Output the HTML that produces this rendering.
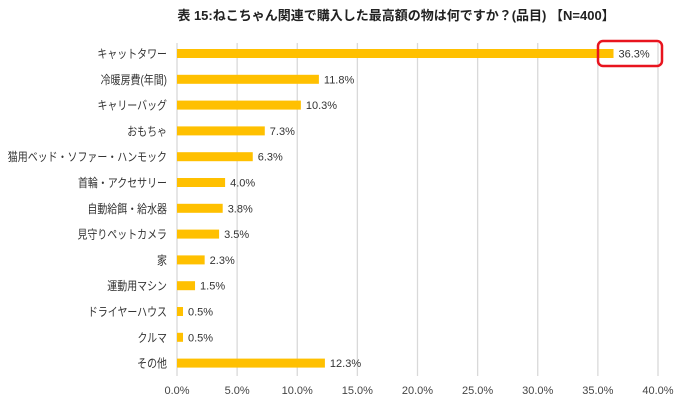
<!DOCTYPE html>
<html><head><meta charset="utf-8">
<style>
body{margin:0;background:#fff;}
svg{display:block;font-family:"Liberation Sans","Noto Sans CJK JP",sans-serif;}
</style></head>
<body>
<svg id="chart" width="700" height="405">
<text x="396" y="20" text-anchor="middle" font-size="13" font-weight="bold" fill="#222">表 15:ねこちゃん関連で購入した最高額の物は何ですか？(品目) 【N=400】</text>
<g id="grid"></g><g id="bars"></g><g id="labels"></g>
<rect x="598" y="41" width="64" height="25" rx="5" fill="none" stroke="#e8141e" stroke-width="2.5"/>
</svg>
<script>
const categories=["キャットタワー","冷暖房費(年間)","キャリーバッグ","おもちゃ","猫用ベッド・ソファー・ハンモック","首輪・アクセサリー","自動給餌・給水器","見守りペットカメラ","家","運動用マシン","ドライヤーハウス","クルマ","その他"];
const values=[36.3,11.8,10.3,7.3,6.3,4.0,3.8,3.5,2.3,1.5,0.5,0.5,12.3];
const ticks=[0,5,10,15,20,25,30,35,40];
const NS="http://www.w3.org/2000/svg";
const x=v=>177+v*12.025;
const y=i=>53.5+i*25.8;
function mk(t,a,p){const e=document.createElementNS(NS,t);for(const k in a)e.setAttribute(k,a[k]);p.appendChild(e);return e;}
const g=document.getElementById('grid'),b=document.getElementById('bars'),l=document.getElementById('labels');
ticks.forEach(t=>{
 const ln=mk('line',{x1:x(t),x2:x(t),y1:43,y2:376,stroke:'#d9d9d9','stroke-width':1.3},g);
 
 
 const tx=mk('text',{x:x(t),y:394,'text-anchor':'middle','font-size':11,fill:'#444'},g);
 tx.textContent=t.toFixed(1)+'%';
 
 
});
categories.forEach((c,i)=>{
 const r=mk('rect',{x:x(0),y:y(i)-4.5,width:x(values[i])-x(0),height:9,fill:'#ffc000'},b);
 
 
 const ct=mk('text',{x:0,y:y(i)+4.5,'text-anchor':'end','font-size':12,fill:'#333',transform:'translate(167,0) scale(0.83,1)'},l);
 ct.textContent=c;
 
 
 const vt=mk('text',{x:x(values[i])+5,y:y(i)+4,'font-size':11,fill:'#333'},l);
 vt.textContent=values[i].toFixed(1)+'%';
 
 
});
</script>
</body></html>
